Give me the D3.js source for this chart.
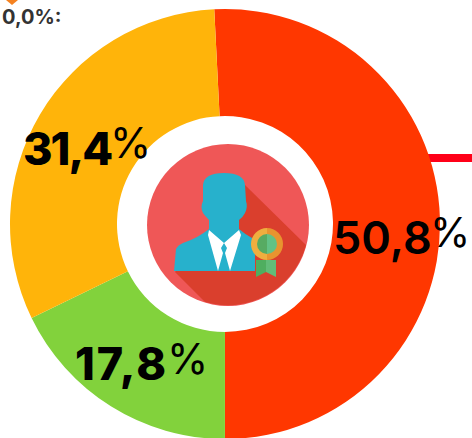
<!DOCTYPE html>
<html>
<head>
<meta charset="utf-8">
<script src="https://cdn.jsdelivr.net/npm/d3@7.9.0/dist/d3.min.js"></script>
<style>
  html, body { margin: 0; padding: 0; background: #fff; overflow: hidden; }
  svg { display: block; }
</style>
</head>
<body>
<svg width="472" height="438"></svg>
<script>
const categories = ['Red', 'Green', 'Yellow'];
const values = [50.8, 17.8, 31.4];
const labels = ['50,8', '17,8', '31,4'];
const colors = ['#ff3700', '#82d23c', '#ffb40a'];

const svg = d3.select('svg');
const cx = 225, cy = 224;

// red tick behind the ring, and the small orange marker top left
svg.append('rect').attr('x', 425).attr('y', 154).attr('width', 47).attr('height', 8).attr('fill', '#ff0018');
svg.append('path').attr('d', 'M6,0 L18,0 L12,5 Z').attr('fill', '#f58220');

let pie = d3.pie().sort(null).value((d) => d).startAngle(-0.05).endAngle(2 * Math.PI - 0.05);
let arcGenerator = d3.arc().innerRadius(108).outerRadius(215);
const ring = svg.append('g').attr('transform', `translate(${cx},${cy})`);
pie(values).forEach((d, i) => {
  ring.append('path').attr('d', arcGenerator(d)).attr('fill', colors[i]);
});

// number and % sit apart in the original, % is thin and raised
const labelStyle = [
  { x: 333, y: 254, px: 430, py: 247, pSize: 41, weight: 600, spacing: 0 },
  { x: 75, y: 380, px: 167, py: 374, pSize: 42, weight: 800, spacing: 2 },
  { x: 23, y: 165, px: 110, py: 158, pSize: 42, weight: 800, spacing: -2 },
];
labels.forEach((l, i) => {
  const s = labelStyle[i];
  svg.append('text').attr('x', s.x).attr('y', s.y)
    .attr('font-family', 'Inter').attr('font-size', 45).attr('font-weight', s.weight)
    .attr('letter-spacing', s.spacing).attr('fill', '#000').text(l);
  svg.append('text').attr('x', s.px).attr('y', s.py)
    .attr('font-family', 'Inter').attr('font-size', s.pSize).attr('font-weight', 400)
    .attr('fill', '#000').text('%');
});

svg.append('text').attr('x', 2).attr('y', 24)
  .attr('font-family', 'Inter').attr('font-size', 20).attr('font-weight', 700)
  .attr('fill', '#333').text('0,0%:');

// badge icon in the middle
const icon = svg.append('g').attr('transform', 'translate(228,225)');
icon.append('circle').attr('r', 81).attr('fill', '#ef5757');
icon.append('path')
  .attr('d', 'M17,-40 L78,20 A81,81 0 0 1 -23,77 L-53,47 Z')
  .attr('fill', '#da3f2d');
icon.append('path')
  .attr('d', 'M-54,46 L-52,24 Q-50,20 -45,18 Q-30,13 -19,4 L-19,-5 Q-23,-9 -25,-12 Q-28,-18 -25,-24 L-25,-40 Q-24,-52 -4,-52 Q16,-52 17,-40 L18,-24 Q20,-18 17,-12 Q15,-8 11,-5 L11,4 Q18,10 24,13 L27,16 L27,46 Z')
  .attr('fill', '#27b1cc');
icon.append('path').attr('d', 'M-19,5 L-4,18 L11,5 L13,10 L2,46 L-10,46 L-20,10 Z').attr('fill', '#fff');
icon.append('path').attr('d', 'M-4,18 L-1,23 L-3,28 L2,46 L-10,46 L-5,28 L-7,23 Z').attr('fill', '#27b1cc');
// ribbon, left half darker
icon.append('path').attr('d', 'M28,35 L28,52 L38,47 L38,35 Z').attr('fill', '#4fae5f');
icon.append('path').attr('d', 'M38,35 L38,47 L48,52 L48,35 Z').attr('fill', '#62bc78');
let half = d3.arc().innerRadius(0);
icon.append('path').attr('transform', 'translate(39,19)')
  .attr('d', half({ outerRadius: 16, startAngle: Math.PI, endAngle: 2 * Math.PI })).attr('fill', '#efae3f');
icon.append('path').attr('transform', 'translate(39,19)')
  .attr('d', half({ outerRadius: 16, startAngle: 0, endAngle: Math.PI })).attr('fill', '#e8942f');
icon.append('path').attr('transform', 'translate(39,19)')
  .attr('d', half({ outerRadius: 10, startAngle: Math.PI, endAngle: 2 * Math.PI })).attr('fill', '#57ab62');
icon.append('path').attr('transform', 'translate(39,19)')
  .attr('d', half({ outerRadius: 10, startAngle: 0, endAngle: Math.PI })).attr('fill', '#62c285');
</script>
</body>
</html>
